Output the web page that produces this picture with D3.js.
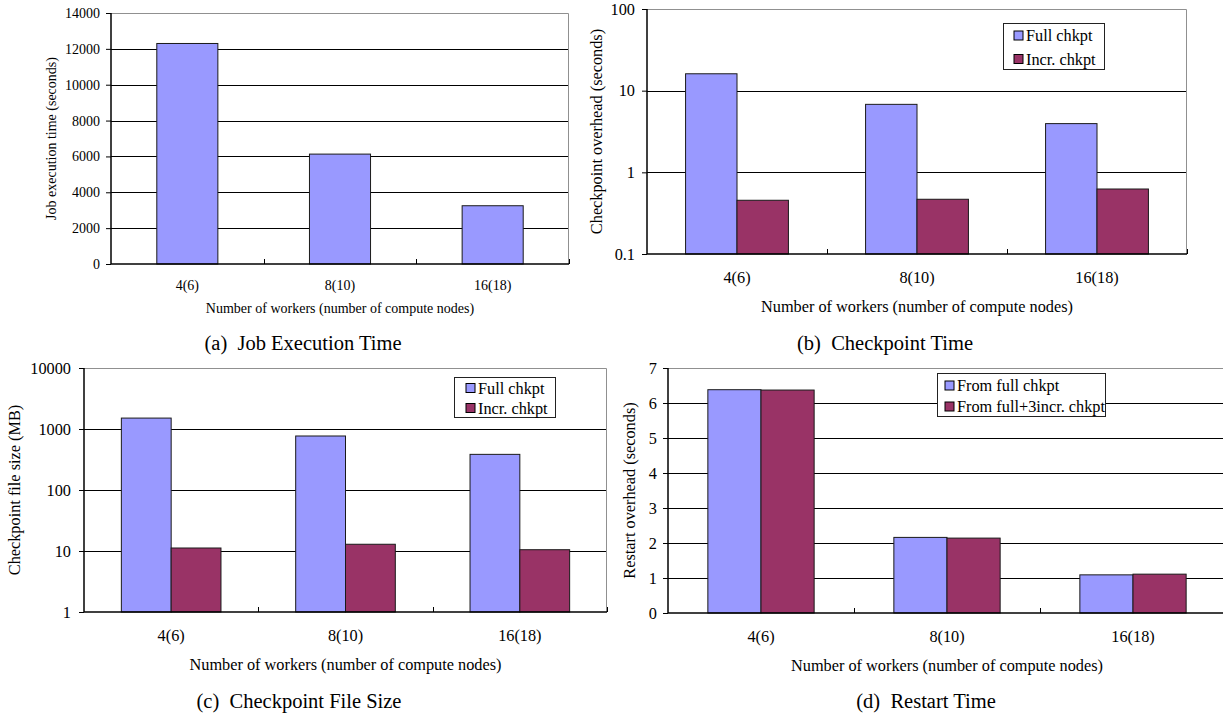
<!DOCTYPE html>
<html>
<head>
<meta charset="utf-8">
<script src="https://cdn.jsdelivr.net/npm/d3@7"></script>
<style>
  html, body { margin: 0; padding: 0; background: #fff; }
  svg { display: block; }
  text { font-family: "Liberation Serif", "Times New Roman", serif; fill: #000; }
</style>
</head>
<body>
<svg id="chart" width="1223" height="717"></svg>
<script>
// ---------------- data ----------------
const categories = ["4(6)", "8(10)", "16(18)"];

const jobTime = [12300, 6130, 3250];

const ckptTimeFull = [16.1, 6.8, 3.95];
const ckptTimeIncr = [0.455, 0.468, 0.625];

const fileSizeFull = [1510, 768, 384];
const fileSizeIncr = [11.2, 12.9, 10.5];

const restartFull = [6.38, 2.16, 1.09];
const restartIncr = [6.37, 2.14, 1.11];

const ticksA = [0, 2000, 4000, 6000, 8000, 10000, 12000, 14000];
const ticksB = [0.1, 1, 10, 100];
const ticksC = [1, 10, 100, 1000, 10000];
const ticksD = [0, 1, 2, 3, 4, 5, 6, 7];

const seriesNames = ["Full chkpt", "Incr. chkpt"];
const restartNames = ["From full chkpt", "From full+3incr. chkpt"];
const xTitle = "Number of workers (number of compute nodes)";

const colorFull = "#9999ff";
const colorIncr = "#993366";

// ---------------- drawing ----------------
const svg = d3.select("#chart");
svg.append("rect").attr("width", 1223).attr("height", 717).attr("fill", "#fff");

function drawPanel(p) {
  const g = svg.append("g");
  const x0 = d3.scaleBand().domain(categories).range([p.left, p.right]).padding(0);
  const n = p.series.length;
  const groupW = x0.bandwidth() * n / (n + 1.5);
  const x1 = d3.scaleBand().domain(p.series.map(s => s.name)).range([0, groupW]).padding(0);
  const y = (p.log ? d3.scaleLog() : d3.scaleLinear()).domain(p.domain).range([p.bottom, p.top]);
  const yBase = y(p.domain[0]);

  // gridlines
  g.append("g").selectAll("line")
    .data(p.ticks.filter(t => t !== p.domain[0] && t !== p.domain[1]))
    .join("line")
    .attr("x1", p.left).attr("x2", p.right)
    .attr("y1", d => Math.round(y(d)) + 0.5).attr("y2", d => Math.round(y(d)) + 0.5)
    .attr("stroke", "#000").attr("stroke-width", 1);

  // frame top & right (gray)
  g.append("path")
    .attr("d", `M${p.left},${p.top + 0.5}H${p.right - 0.5}V${p.bottom}`)
    .attr("fill", "none").attr("stroke", "#909090").attr("stroke-width", 1);

  // bars
  p.series.forEach(s => {
    g.append("g").selectAll("rect")
      .data(s.values.map((v, j) => ({ v, c: categories[j] })))
      .join("rect")
      .attr("x", d => x0(d.c) + (x0.bandwidth() - groupW) / 2 + x1(s.name))
      .attr("y", d => y(d.v))
      .attr("width", x1.bandwidth())
      .attr("height", d => yBase - y(d.v))
      .attr("fill", s.color)
      .attr("stroke", "#1a1a1a").attr("stroke-width", 1);
  });

  // y axis
  const ya = g.append("g")
    .attr("transform", `translate(${p.left},0)`)
    .call(d3.axisLeft(y).tickValues(p.ticks).tickFormat(d => String(d)).tickSize(5).tickPadding(p.tickPad));
  ya.select(".domain").attr("stroke", "#000").attr("stroke-width", 1.5).attr("d", `M0,${p.top}V${p.bottom}`);
  ya.selectAll(".tick line").attr("stroke", "#000");
  ya.selectAll(".tick text").attr("font-size", p.fs).attr("font-family", "Liberation Serif, Times New Roman, serif").attr("fill", "#000");

  // x axis (category labels)
  const xa = g.append("g")
    .attr("transform", `translate(0,${p.bottom})`)
    .call(d3.axisBottom(x0).tickSize(0).tickPadding(p.xLabPad));
  xa.select(".domain").attr("stroke", "#000").attr("stroke-width", 1.5).attr("d", `M${p.left},0H${p.right}`);
  xa.selectAll(".tick text").attr("font-size", p.fs).attr("font-family", "Liberation Serif, Times New Roman, serif").attr("fill", "#000");

  // x tick marks at category boundaries (pointing up)
  const bounds = categories.slice(1).map(c => x0(c)).concat([p.right - 0.5]);
  g.append("g").selectAll("line").data(bounds).join("line")
    .attr("x1", d => Math.round(d) + 0.5).attr("x2", d => Math.round(d) + 0.5)
    .attr("y1", p.bottom).attr("y2", p.bottom - 5)
    .attr("stroke", "#000").attr("stroke-width", 1);

  // axis titles
  g.append("text")
    .attr("x", (p.left + p.right) / 2).attr("y", p.xTitleY)
    .attr("text-anchor", "middle").attr("dominant-baseline", "central")
    .attr("font-size", p.fs).text(xTitle);
  g.append("text")
    .attr("transform", `translate(${p.yTitleX},${(p.top + p.bottom) / 2}) rotate(-90)`)
    .attr("text-anchor", "middle").attr("dominant-baseline", "central")
    .attr("font-size", p.fs).text(p.yTitle);

  // legend
  if (p.legend) {
    const L = p.legend;
    const lg = g.append("g");
    lg.append("rect")
      .attr("x", L.x + 0.5).attr("y", L.y + 0.5).attr("width", L.w).attr("height", L.h)
      .attr("fill", "#fff").attr("stroke", "#222").attr("stroke-width", 1);
    p.series.forEach((s, i) => {
      const cy = L.y + L.row0 + i * L.dy;
      lg.append("rect")
        .attr("x", L.x + L.sw).attr("y", cy - 4.5).attr("width", 9).attr("height", 9)
        .attr("fill", s.color).attr("stroke", "#000").attr("stroke-width", 1);
      lg.append("text")
        .attr("x", L.x + L.sw + 12).attr("y", cy)
        .attr("dominant-baseline", "central")
        .attr("font-size", p.fs).text(s.name);
    });
  }

  // caption
  svg.append("text")
    .attr("x", p.capX).attr("y", p.capY)
    .attr("text-anchor", "middle").attr("dominant-baseline", "central")
    .attr("font-size", 20.5).style("white-space", "pre")
    .text(p.caption);
}

drawPanel({
  left: 111, right: 569, top: 13, bottom: 264,
  log: false, domain: [0, 14000], ticks: ticksA, fs: 14, tickPad: 6, xLabPad: 16,
  series: [{ name: seriesNames[0], values: jobTime, color: colorFull }],
  yTitle: "Job execution time (seconds)", yTitleX: 51, xTitleY: 308,
  caption: "(a)  Job Execution Time", capX: 303, capY: 343
});

drawPanel({
  left: 647, right: 1187, top: 9, bottom: 254,
  log: true, domain: [0.1, 100], ticks: ticksB, fs: 16.3, tickPad: 7, xLabPad: 17,
  series: [
    { name: seriesNames[0], values: ckptTimeFull, color: colorFull },
    { name: seriesNames[1], values: ckptTimeIncr, color: colorIncr }
  ],
  yTitle: "Checkpoint overhead (seconds)", yTitleX: 596, xTitleY: 306,
  legend: { x: 1003, y: 23, w: 101, h: 46, row0: 12.5, dy: 23.5, sw: 11 },
  caption: "(b)  Checkpoint Time", capX: 885, capY: 343
});

drawPanel({
  left: 84, right: 607, top: 368, bottom: 612,
  log: true, domain: [1, 10000], ticks: ticksC, fs: 16.3, tickPad: 8, xLabPad: 17,
  series: [
    { name: seriesNames[0], values: fileSizeFull, color: colorFull },
    { name: seriesNames[1], values: fileSizeIncr, color: colorIncr }
  ],
  yTitle: "Checkpoint file size (MB)", yTitleX: 14, xTitleY: 664,
  legend: { x: 454, y: 377, w: 101, h: 40, row0: 11, dy: 20, sw: 12 },
  caption: "(c)  Checkpoint File Size", capX: 299, capY: 701
});

drawPanel({
  left: 668, right: 1226, top: 368, bottom: 613,
  log: false, domain: [0, 7], ticks: ticksD, fs: 16.3, tickPad: 6, xLabPad: 17,
  series: [
    { name: restartNames[0], values: restartFull, color: colorFull },
    { name: restartNames[1], values: restartIncr, color: colorIncr }
  ],
  yTitle: "Restart overhead (seconds)", yTitleX: 629, xTitleY: 665,
  legend: { x: 937, y: 373, w: 168, h: 43, row0: 12.5, dy: 21, sw: 8 },
  caption: "(d)  Restart Time", capX: 926, capY: 701
});
</script>
</body>
</html>
